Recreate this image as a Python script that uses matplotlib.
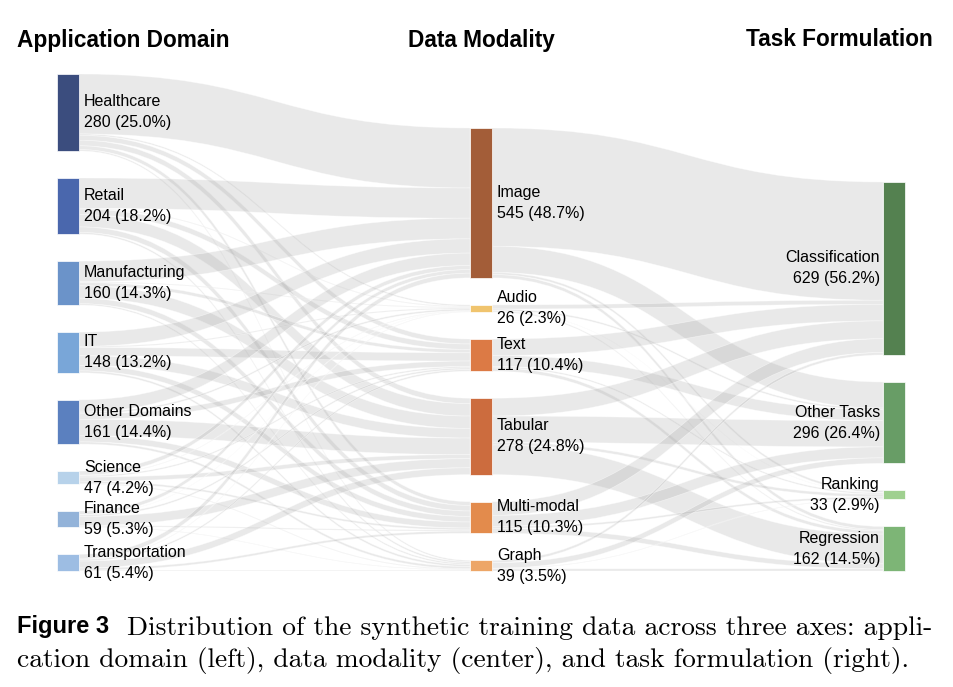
import numpy as np
import matplotlib
matplotlib.use("Agg")
import matplotlib.pyplot as plt
from matplotlib.path import Path
from matplotlib.patches import PathPatch, Rectangle

plt.rcParams['font.family'] = ['Liberation Sans', 'DejaVu Sans']

# data
domains = ["Healthcare", "Retail", "Manufacturing", "IT", "Other Domains",
           "Science", "Finance", "Transportation"]
modalities = ["Image", "Audio", "Text", "Tabular", "Multi-modal", "Graph"]
tasks = ["Classification", "Other Tasks", "Ranking", "Regression"]

# domain -> modality (rows: domains, cols: modalities), estimated
dom_mod = np.array([
    [218, 5, 18, 20, 14, 5],
    [110, 3, 20, 45, 20, 6],
    [75, 3, 12, 45, 20, 5],
    [52, 4, 30, 35, 20, 7],
    [45, 6, 20, 60, 22, 8],
    [15, 2, 5, 15, 7, 3],
    [13, 1, 6, 33, 4, 2],
    [17, 2, 6, 25, 8, 3],
])
# modality -> task (rows: modalities, cols: tasks), estimated
mod_task = np.array([
    [430, 95, 8, 12],
    [15, 6, 1, 4],
    [60, 40, 5, 12],
    [65, 95, 10, 108],
    [50, 40, 7, 18],
    [9, 20, 2, 8],
])

dom_colors = ["#3b4d7e", "#4a67ad", "#6b93c9", "#79a6d8", "#5b80bf",
              "#b7d2ea", "#93b3d9", "#9dbde3"]
mod_colors = ["#a35d38", "#f0c46e", "#dc7a45", "#cc6c3e", "#e38b4c", "#eda667"]
task_colors = ["#548150", "#689d66", "#9fd08f", "#7db576"]

headers = ["Application Domain", "Data Modality", "Task Formulation"]

# layout (pixels)
W, H = 954, 687
k = 0.275          # px per sample
gap = 27
bottom = 571
node_w = 22
col_x = [57, 470, 883]

fig = plt.figure(figsize=(W / 100, H / 100), dpi=100)
ax = fig.add_axes([0, 0, 1, 1])
ax.set_xlim(0, W)
ax.set_ylim(H, 0)
ax.axis("off")

total = dom_mod.sum()


def layout(values):
    values = np.asarray(values)
    span = k * values.sum() + gap * (len(values) - 1)
    tops = []
    y = bottom - span
    for v in values:
        tops.append(y)
        y += k * v + gap
    return np.array(tops)


dom_vals = dom_mod.sum(axis=1)
mod_vals = dom_mod.sum(axis=0)
task_vals = mod_task.sum(axis=0)
cols = [dom_vals, mod_vals, task_vals]
tops = [layout(v) for v in cols]


def draw_links(mat, xs, src_tops, tgt_tops):
    x0 = xs[0] + node_w
    x1 = xs[1]
    xm = (x0 + x1) / 2
    # offsets at targets ordered by source
    tgt_start = np.zeros_like(mat, dtype=float)
    for j in range(mat.shape[1]):
        y = tgt_tops[j]
        for i in range(mat.shape[0]):
            tgt_start[i, j] = y
            y += k * mat[i, j]
    for i in range(mat.shape[0]):
        y = src_tops[i]
        for j in range(mat.shape[1]):
            h = k * mat[i, j]
            sy0, sy1 = y, y + h
            ty0 = tgt_start[i, j]
            ty1 = ty0 + h
            verts = [(x0, sy0), (xm, sy0), (xm, ty0), (x1, ty0),
                     (x1, ty1), (xm, ty1), (xm, sy1), (x0, sy1), (x0, sy0)]
            codes = [Path.MOVETO, Path.CURVE4, Path.CURVE4, Path.CURVE4,
                     Path.LINETO, Path.CURVE4, Path.CURVE4, Path.CURVE4,
                     Path.CLOSEPOLY]
            ax.add_patch(PathPatch(Path(verts, codes),
                                   facecolor=(0.63, 0.63, 0.63, 0.23),
                                   edgecolor=(1, 1, 1, 0.5), lw=0.5, zorder=1))
            y = sy1


draw_links(dom_mod, col_x[:2], tops[0], tops[1])
draw_links(mod_task, col_x[1:], tops[1], tops[2])

names = [domains, modalities, tasks]
colors = [dom_colors, mod_colors, task_colors]
for c in range(3):
    for i, v in enumerate(cols[c]):
        y0 = tops[c][i]
        h = k * v
        ax.add_patch(Rectangle((col_x[c], y0), node_w, h, facecolor=colors[c][i],
                               edgecolor="white", lw=0.5, zorder=3))
        label = f"{names[c][i]}\n{v} ({100 * v / total:.1f}%)"
        if c < 2:
            ax.text(col_x[c] + node_w + 5, y0 + h / 2, label, ha="left",
                    va="center", fontsize=11.5, linespacing=1.5, zorder=4)
        else:
            ax.text(col_x[c] - 3, y0 + h / 2, label, ha="right", va="center",
                    multialignment="right", fontsize=11.5, linespacing=1.5,
                    zorder=4)

ax.text(17, 40, headers[0], ha="left", va="center", fontsize=16.3,
        fontweight="bold")
ax.text(481, 40, headers[1], ha="center", va="center", fontsize=16.3,
        fontweight="bold")
ax.text(933, 40, headers[2], ha="right", va="center", fontsize=16.3,
        fontweight="bold")

# caption
ax.text(17, 627, "Figure 3", ha="left", va="center", fontsize=17,
        fontweight="bold")
ax.text(127, 628, "Distribution of the synthetic training data across three axes: appli-",
        ha="left", va="center", fontsize=19.8, family=["cmr10", "DejaVu Serif"])
ax.text(17, 660, "cation domain (left), data modality (center), and task formulation (right).",
        ha="left", va="center", fontsize=19.8, family=["cmr10", "DejaVu Serif"])

fig.savefig("out.png", dpi=100)
